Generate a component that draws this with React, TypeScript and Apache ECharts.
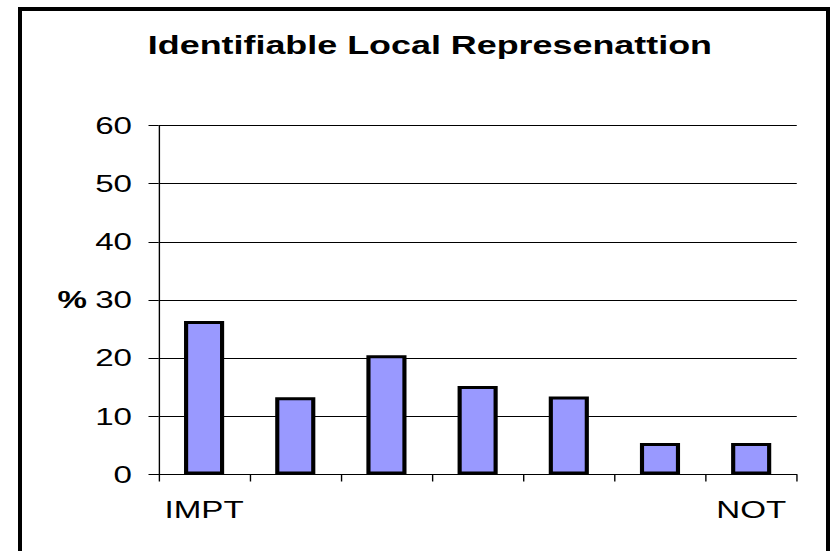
import React, { useEffect, useRef } from "react";
import * as echarts from "echarts";

const titleText = "Identifiable Local Represenattion";
const categories = ["IMPT", "", "", "", "", "", "NOT"];
const values = [26.4, 13.3, 20.5, 15.2, 13.4, 5.4, 5.4];
const yMin = 0;
const yMax = 60;
const yInterval = 10;
const yName = "%";

// The reference picture is horizontally stretched; reproduce it with a CSS scale.
const STRETCH = 1.38;
const PAGE_W = 831;
const PAGE_H = 551;
const CHART_W = PAGE_W / STRETCH;

const FONT = "'Liberation Sans', Arial, Helvetica, sans-serif";

export default function App() {
  const ref = useRef<HTMLDivElement>(null);

  useEffect(() => {
    if (!ref.current) return;
    const chart = echarts.init(ref.current, undefined, { renderer: "svg" });
    const sx = (px: number) => px / STRETCH;
    chart.setOption({
      animation: false,
      backgroundColor: "transparent",
      title: {
        text: titleText,
        left: sx(423),
        top: 27,
        textAlign: "center",
        textStyle: {
          fontFamily: FONT,
          fontSize: 26,
          fontWeight: "bold",
          color: "#000",
        },
      },
      grid: {
        left: sx(158.5),
        right: sx(PAGE_W - 797),
        top: 125.5,
        bottom: PAGE_H - 474.5,
        containLabel: false,
      },
      xAxis: {
        type: "category",
        data: categories,
        boundaryGap: true,
        axisLine: { show: true, lineStyle: { color: "#000", width: 1 } },
        axisTick: {
          show: true,
          length: 7,
          inside: false,
          lineStyle: { color: "#000", width: 1 },
        },
        axisLabel: {
          show: true,
          interval: 0,
          margin: 23,
          fontFamily: FONT,
          fontSize: 24,
          color: "#000",
        },
        splitLine: { show: false },
      },
      yAxis: {
        type: "value",
        min: yMin,
        max: yMax,
        interval: yInterval,
        name: yName,
        nameLocation: "middle",
        nameRotate: 0,
        nameGap: sx(71.5),
        nameTextStyle: {
          fontFamily: FONT,
          fontSize: 24,
          fontWeight: "bold",
          color: "#000",
          align: "right",
          verticalAlign: "middle",
        },
        axisLine: { show: true, lineStyle: { color: "#000", width: 1 } },
        axisTick: {
          show: true,
          length: sx(10),
          inside: false,
          lineStyle: { color: "#000", width: 1 },
        },
        axisLabel: {
          show: true,
          margin: sx(26.5),
          fontFamily: FONT,
          fontSize: 24,
          color: "#000",
        },
        splitLine: { show: true, lineStyle: { color: "#000", width: 1 } },
      },
      series: [
        {
          type: "bar",
          data: values,
          barWidth: "44%",
          itemStyle: {
            color: "#9999FF",
            borderColor: "#000",
            borderWidth: 3,
          },
        },
      ],
    });
    return () => chart.dispose();
  }, []);

  return (
    <div
      style={{
        position: "absolute",
        left: 0,
        top: 0,
        width: PAGE_W,
        height: PAGE_H,
        overflow: "hidden",
        background: "#fff",
      }}
    >
      <div
        ref={ref}
        style={{
          position: "absolute",
          left: 0,
          top: 0,
          width: CHART_W,
          height: PAGE_H,
          transform: `scaleX(${STRETCH})`,
          transformOrigin: "0 0",
        }}
      />
      <div
        style={{
          position: "absolute",
          left: 18,
          top: 7,
          width: 812,
          height: 620,
          boxSizing: "border-box",
          border: "4px solid #000",
          pointerEvents: "none",
        }}
      />
    </div>
  );
}
